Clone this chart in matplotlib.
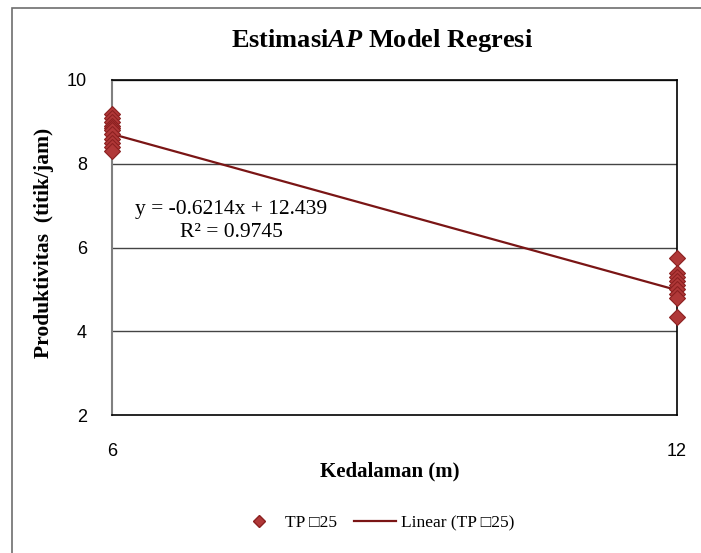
import matplotlib
matplotlib.use("Agg")
import matplotlib.pyplot as plt
from matplotlib.patches import Rectangle
from matplotlib.lines import Line2D
import numpy as np

# Data
depth_6 = [6] * 11
prod_6 = [9.2, 9.1, 9.0, 8.9, 8.85, 8.8, 8.7, 8.6, 8.5, 8.4, 8.3]
depth_12 = [12] * 9
prod_12 = [5.75, 5.4, 5.3, 5.2, 5.1, 5.0, 4.9, 4.8, 4.35]
slope = -0.6214
intercept = 12.439
r2 = 0.9745
xticks = [6, 12]
yticks = [2, 4, 6, 8, 10]

plt.rcParams['mathtext.fontset'] = 'custom'
plt.rcParams['mathtext.it'] = 'Liberation Serif:italic:bold'
plt.rcParams['mathtext.rm'] = 'Liberation Serif:bold'
plt.rcParams['mathtext.bf'] = 'Liberation Serif:bold'

serif = ['Liberation Serif', 'DejaVu Serif', 'DejaVu Sans']
sans = ['Liberation Sans', 'DejaVu Sans']

fig = plt.figure(figsize=(7.01, 5.53), dpi=100)
fig.patch.set_facecolor('white')
# outer chart border
fig.patches.append(Rectangle((12/701, -0.02), 1.0, 1 - 8/553 + 0.02, transform=fig.transFigure,
                             fill=False, edgecolor='#6e6e6e', linewidth=1.2, zorder=0))

ax = fig.add_axes([112/701, 1 - 415/553, (677 - 112)/701, (415 - 80)/553])
ax.set_xlim(6, 12)
ax.set_ylim(2, 10)
ax.set_xticks(xticks)
ax.set_yticks(yticks)
ax.tick_params(length=0, labelsize=13)
for lab in ax.get_xticklabels() + ax.get_yticklabels():
    lab.set_family(sans)
ax.tick_params(axis='x', pad=20)
ax.tick_params(axis='y', pad=18)

for y in [4, 6, 8, 10]:
    ax.axhline(y, color='#444444', linewidth=1.0, zorder=1)
for s in ['top', 'right', 'bottom']:
    ax.spines[s].set_color('black')
    ax.spines[s].set_linewidth(1.2)
ax.spines['left'].set_color('#808080')
ax.spines['left'].set_linewidth(1.5)

mcol = '#B03838'
ecol = '#8B2020'
ax.plot(depth_6 + depth_12, prod_6 + prod_12, linestyle='none', marker='D', markersize=8,
        markerfacecolor=mcol, markeredgecolor=ecol, markeredgewidth=0.8, zorder=4, clip_on=False)
xs = np.array([6, 12])
ax.plot(xs, slope * xs + intercept, color='#7A1515', linewidth=1.6, zorder=3)

ax.text(0.04, 0.613, f"y = {slope}x + {intercept}", transform=ax.transAxes,
        fontsize=15.5, family=serif, ha='left', va='center')
ax.text(0.121, 0.545, f"R² = {r2}", transform=ax.transAxes,
        fontsize=15.5, family=serif, ha='left', va='center')

fig.text(382/701, 1 - 40/553, "Estimasi$\\mathit{AP}$ Model Regresi", ha='center', va='center',
         fontsize=19, fontweight='bold', family=serif)
fig.text(44/701, 1 - 243/553, "Produktivitas  (titik/jam)", rotation=90, ha='center', va='center',
         fontsize=15.5, fontweight='bold', family=serif)
fig.text(390/701, 1 - 471/553, "Kedalaman (m)", ha='center', va='center',
         fontsize=15, fontweight='bold', family=serif)

handles = [Line2D([], [], linestyle='none', marker='D', markersize=6, markerfacecolor=mcol,
                  markeredgecolor=ecol),
           Line2D([], [], color='#7A1515', linewidth=1.6)]
leg = fig.legend(handles, ["TP \u25a125", "Linear (TP \u25a125)"], loc='center',
                 bbox_to_anchor=(376/701, 1 - 523/553), ncol=2, frameon=False,
                 prop={'family': serif, 'size': 12.5}, handlelength=2.4, columnspacing=1.0,
                 handletextpad=0.3)

fig.savefig("out.png", dpi=100)
